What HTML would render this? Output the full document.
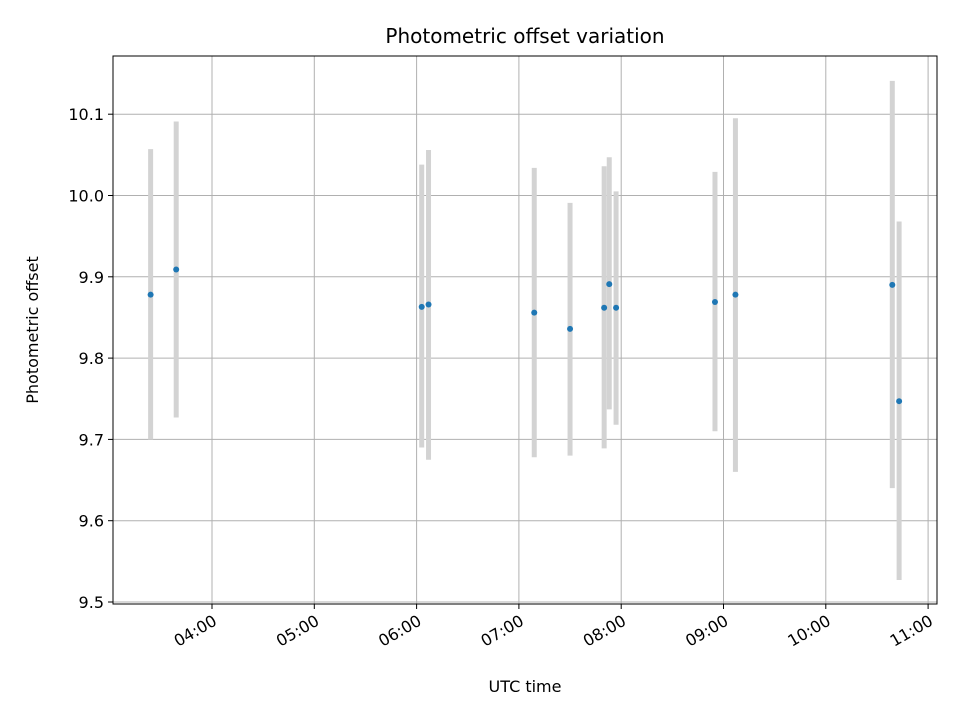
<!DOCTYPE html>
<html><head><meta charset="utf-8"><style>
body{margin:0;background:#fff;}
svg text{font-family:"DejaVu Sans","Liberation Sans",sans-serif;fill:#000;}
</style></head><body>
<svg id="chart" width="960" height="720" xmlns="http://www.w3.org/2000/svg">
<rect width="960" height="720" fill="#fff"/>
<g id="grid"></g><g id="bars"></g><g id="pts"></g><g id="axes"></g>
<text x="525" y="43" font-size="20" text-anchor="middle">Photometric offset variation</text>
<text x="525" y="692" font-size="16" text-anchor="middle">UTC time</text>
<text transform="translate(38,330) rotate(-90)" font-size="16" text-anchor="middle">Photometric offset</text>
</svg>
<script>
const times = ["03:24","03:39","06:03","06:07","07:09","07:30","07:50","07:53","07:57","08:55","09:07","10:39","10:43"];
const offsets = [9.878,9.909,9.863,9.866,9.856,9.836,9.862,9.891,9.862,9.869,9.878,9.890,9.747];
const lows = [9.700,9.727,9.690,9.675,9.678,9.680,9.689,9.737,9.718,9.710,9.660,9.640,9.527];
const highs = [10.057,10.091,10.038,10.056,10.034,9.991,10.036,10.047,10.005,10.029,10.095,10.141,9.968];
const yTicks = [9.5,9.6,9.7,9.8,9.9,10.0,10.1];
const xTicks = ["04:00","05:00","06:00","07:00","08:00","09:00","10:00","11:00"];
const L=113,R=937,T=56,B=604;
const NS="http://www.w3.org/2000/svg";
function hrs(s){const p=s.split(":");return +p[0]+ +p[1]/60;}
function X(h){return 212+(h-4)*102.3;}
function Y(v){return 602-(v-9.5)*813;}
function mk(tag,attrs,parent){const e=document.createElementNS(NS,tag);for(const k in attrs)e.setAttribute(k,attrs[k]);document.getElementById(parent).appendChild(e);return e;}
yTicks.forEach(v=>{
  const y=Y(v);
  const g=mk("line",{x1:L,x2:R,y1:y,y2:y,stroke:"#b0b0b0","stroke-width":1},"grid");
  
  
  mk("line",{x1:L-5,x2:L,y1:y,y2:y,stroke:"#000"},"axes");
  const t=mk("text",{x:L-9,y:y+6,"font-size":16,"text-anchor":"end"},"axes");
  t.textContent=v.toFixed(1);
  
  
});
xTicks.forEach(s=>{
  const x=X(hrs(s));
  const g=mk("line",{x1:x,x2:x,y1:T,y2:B,stroke:"#b0b0b0","stroke-width":1},"grid");
  
  
  mk("line",{x1:x,x2:x,y1:B,y2:B+5,stroke:"#000"},"axes");
  const t=mk("text",{transform:`translate(${x+6},${B+20}) rotate(-30)`,"font-size":16,"text-anchor":"end"},"axes");
  t.textContent=s;
  
  
});
times.forEach((s,i)=>{
  const x=X(hrs(s));
  const b=mk("line",{x1:x,x2:x,y1:Y(lows[i]),y2:Y(highs[i]),stroke:"#d3d3d3","stroke-width":5},"bars");
  
  
  const c=mk("circle",{cx:x,cy:Y(offsets[i]),r:3,fill:"#1f77b4"},"pts");
  
  
});
const f=mk("rect",{x:L,y:T,width:R-L,height:B-T,fill:"none",stroke:"#000","stroke-width":1},"axes");


</script>
</body></html>
